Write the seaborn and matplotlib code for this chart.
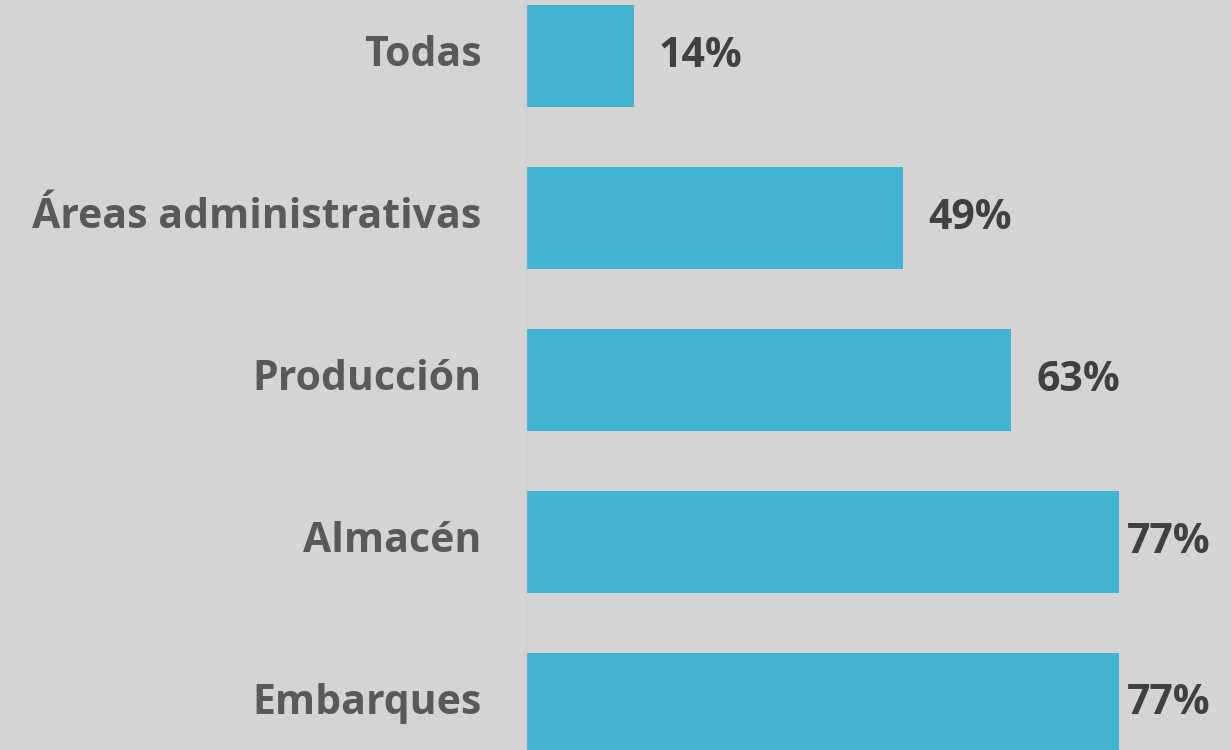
import matplotlib
matplotlib.use("Agg")
import matplotlib.pyplot as plt
import matplotlib.transforms as mtransforms
import seaborn as sns
import pandas as pd

categories = ["Todas", "Áreas administrativas", "Producción", "Almacén", "Embarques"]
values = [14, 49, 63, 77, 77]
value_labels = ["14%", "49%", "63%", "77%", "77%"]

df = pd.DataFrame({"area": categories, "pct": values})

sns.set_theme(style="white")
plt.rcParams["font.family"] = ["Open Sans", "DejaVu Sans"]

bg = "#d4d4d4"
fig = plt.figure(figsize=(12.31, 7.5), dpi=100, facecolor=bg)
ax = fig.add_axes([0.4273, 0, 0.5727, 1])
ax.set_facecolor(bg)

sns.barplot(data=df, y="area", x="pct", orient="h", color="#41b3d3",
            saturation=1, width=0.635, linewidth=0, ax=ax)

ax.set_xlim(0, 91.56)
ax.set_ylim(4.284, -0.346)

# value labels, pulled in closer for the longest bars so they stay in view
for i, (v, lab) in enumerate(zip(values, value_labels)):
    pad = 18 if v < 70 else 6
    ax.annotate(lab, xy=(v, i), xytext=(pad, 0), textcoords="offset points",
                ha="left", va="center", fontsize=29.5, fontweight="bold",
                color="#404040")

ax.set_xlabel("")
ax.set_ylabel("")
ax.set_xticks([])
ax.tick_params(axis="y", length=0, pad=32)
shift = mtransforms.ScaledTranslation(0, 4 / 72, fig.dpi_scale_trans)
for t in ax.get_yticklabels():
    t.set_fontsize(29.5)
    t.set_fontweight("bold")
    t.set_color("#595959")
    t.set_transform(t.get_transform() + shift)

for s in ["top", "right", "bottom"]:
    ax.spines[s].set_visible(False)
ax.spines["left"].set_color("#cdcdcd")
ax.spines["left"].set_linewidth(1)

fig.savefig("out.png", dpi=100, facecolor=bg)
